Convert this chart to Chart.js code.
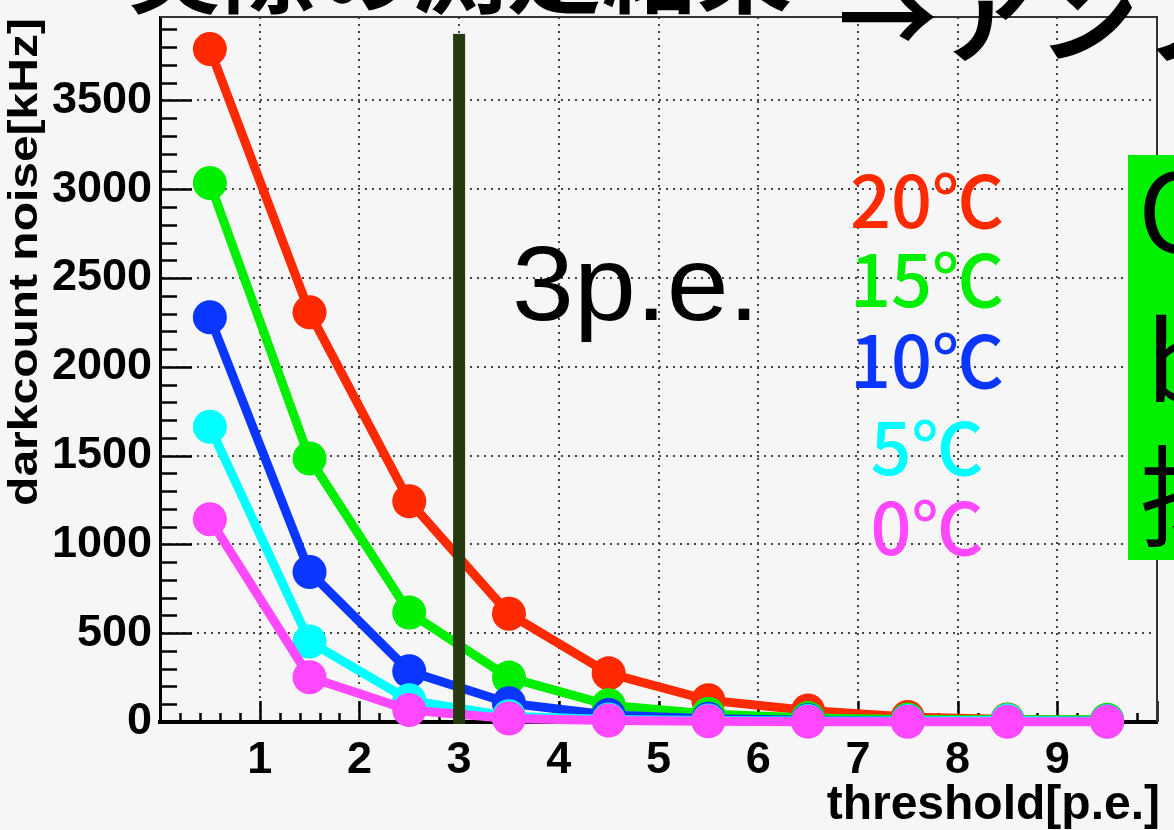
<!DOCTYPE html>
<html>
<head>
<meta charset="utf-8">
<script src="https://cdn.jsdelivr.net/npm/chart.js@4"></script>
<style>
  html, body { margin: 0; padding: 0; background: #f6f6f6; }
  canvas { display: block; }
</style>
</head>
<body>
<canvas id="chart" width="1174" height="830"></canvas>
<script>
  // threshold bins [p.e.]
  const thresholds = [0.5, 1.5, 2.5, 3.5, 4.5, 5.5, 6.5, 7.5, 8.5, 9.5];

  // darkcount noise [kHz]
  const noise20 = [3790, 2307, 1243, 610, 274, 123, 65, 28, 14, 10];
  const noise15 = [3035, 1484, 616, 250, 95, 45, 22, 14, 12, 12];
  const noise10 = [2279, 845, 286, 106, 40, 18, 10, 6, 5, 4];
  const noise5 = [1663, 453, 123, 32, 14, 8, 6, 5, 8, 4];
  const noise0 = [1142, 252, 67, 20, 8, 4, 2, 1, 1, 1];

  const tempLabels = ["20℃", "15℃", "10℃", "5℃", "0℃"];
  const tempColors = ["#ff2a00", "#00ee00", "#0a36ff", "#00ffff", "#ff48ff"];

  const xTicks = [1, 2, 3, 4, 5, 6, 7, 8, 9];
  const yTicks = [0, 500, 1000, 1500, 2000, 2500, 3000, 3500];

  const cutLine = { x: 3, top: 3875 };

  function points(vals) {
    return thresholds.map((x, i) => ({ x: x, y: vals[i] }));
  }

  const seriesVals = [noise20, noise15, noise10, noise5, noise0];

  // first dataset is drawn on top in Chart.js, so reverse: 0℃ on top
  const datasets = seriesVals.map((vals, i) => ({
    label: tempLabels[i],
    data: points(vals),
    borderColor: tempColors[i],
    backgroundColor: tempColors[i],
    pointBackgroundColor: tempColors[i],
    pointBorderWidth: 0,
    pointRadius: 17,
    borderWidth: 9,
    tension: 0,
    clip: false,
  })).reverse();

  function noPad(s) {
    s.paddingTop = 0;
    s.paddingBottom = 0;
    s.paddingLeft = 0;
    s.paddingRight = 0;
  }

  const overlay = {
    id: "overlay",
    beforeDraw(chart) {
      const ctx = chart.ctx;
      ctx.save();
      ctx.fillStyle = "#f6f6f6";
      ctx.fillRect(0, 0, chart.width, chart.height);
      ctx.restore();
    },
    beforeDatasetsDraw(chart) {
      const ctx = chart.ctx;
      const a = chart.chartArea;
      const xs = chart.scales.x;
      const ys = chart.scales.y;
      ctx.save();
      ctx.strokeStyle = "#000";
      ctx.lineWidth = 2.5;
      ctx.beginPath();
      for (let v = 0; v <= 3900; v += 100) {
        const y = Math.round(ys.getPixelForValue(v)) + 0.5;
        const len = v % 500 === 0 ? 32 : 17;
        ctx.moveTo(a.left, y);
        ctx.lineTo(a.left + len, y);
      }
      for (let k = 0; k <= 50; k++) {
        const x = Math.round(xs.getPixelForValue(k * 0.2)) + 0.5;
        const len = k % 5 === 0 ? 21 : 9;
        ctx.moveTo(x, a.bottom);
        ctx.lineTo(x, a.bottom - len);
      }
      ctx.stroke();
      // top and right frame
      ctx.strokeStyle = "#333";
      ctx.lineWidth = 2;
      ctx.beginPath();
      ctx.moveTo(a.left, a.top);
      ctx.lineTo(a.right, a.top);
      ctx.lineTo(a.right, a.bottom);
      ctx.stroke();
      ctx.restore();
    },
    afterDatasetsDraw(chart) {
      const ctx = chart.ctx;
      const a = chart.chartArea;
      const xs = chart.scales.x;
      const ys = chart.scales.y;
      ctx.save();

      // 3 p.e. cut line
      const cx = xs.getPixelForValue(cutLine.x);
      const ct = ys.getPixelForValue(cutLine.top);
      ctx.fillStyle = "#263a10";
      ctx.fillRect(cx - 6, ct, 12, a.bottom + 2 - ct);

      // axis titles
      ctx.fillStyle = "#000";
      ctx.font = "bold 48px 'Liberation Sans', Arial, sans-serif";
      ctx.textAlign = "right";
      ctx.textBaseline = "alphabetic";
      ctx.fillText("threshold[p.e.]", 1160, 819);

      ctx.save();
      ctx.translate(37, 262);
      ctx.rotate(-Math.PI / 2);
      ctx.scale(1.17, 1);
      ctx.font = "bold 41px 'Liberation Sans', Arial, sans-serif";
      ctx.textAlign = "center";
      ctx.fillText("darkcount noise[kHz]", 0, 0);
      ctx.restore();

      // "3p.e."
      ctx.save();
      ctx.translate(512, 320);
      ctx.scale(1.05, 1);
      ctx.font = "106px 'Liberation Sans', Arial, sans-serif";
      ctx.textAlign = "left";
      ctx.fillText("3p.e.", 0, 0);
      ctx.restore();

      // temperature labels
      const baselines = [228, 307, 388, 475, 555];
      ctx.font = "500 72px 'Noto Sans CJK JP', sans-serif";
      ctx.textAlign = "center";
      tempLabels.forEach((t, i) => {
        ctx.fillStyle = tempColors[i];
        ctx.fillText(t, 927, baselines[i]);
      });

      // slide title, cut off at the top
      ctx.fillStyle = "#000";
      ctx.textAlign = "left";
      ctx.font = "bold 95px 'Noto Sans CJK JP', sans-serif";
      ctx.fillText("実際の測定結果", 127, 6);
      ctx.font = "bold 100px 'Noto Sans CJK JP', sans-serif";
      ctx.fillText("→アンプ", 838, 55);

      // green note box on the right edge
      ctx.fillStyle = "#00f000";
      ctx.fillRect(1128, 155, 60, 405);
      ctx.fillStyle = "#000";
      ctx.font = "110px 'Noto Sans CJK JP', sans-serif";
      ctx.fillText("O", 1138, 253);
      ctx.fillText("b", 1146, 402);
      ctx.fillText("抑", 1140, 538);

      ctx.restore();
    },
  };

  const tickFont = { family: "'Liberation Sans', Arial, sans-serif", size: 45, weight: "bold" };

  new Chart(document.getElementById("chart"), {
    type: "line",
    data: { datasets: datasets },
    options: {
      responsive: false,
      animation: false,
      devicePixelRatio: 1,
      layout: { padding: { top: 14, right: 12, left: 0, bottom: 0 } },
      plugins: { legend: { display: false }, tooltip: { enabled: false } },
      scales: {
        x: {
          type: "linear",
          min: 0,
          max: 10,
          afterBuildTicks: (s) => { s.ticks = xTicks.map((v) => ({ value: v })); },
          afterFit: (s) => { s.height = 108; noPad(s); },
          ticks: { color: "#000", font: tickFont, padding: 12, maxRotation: 0, autoSkip: false, callback: (v) => String(v) },
          grid: { color: "#444", lineWidth: 2, drawTicks: false },
          border: { display: true, color: "#000", width: 4, dash: [2, 5] },
        },
        y: {
          min: 0,
          max: 3970,
          afterBuildTicks: (s) => { s.ticks = yTicks.map((v) => ({ value: v })); },
          afterFit: (s) => { s.width = 160; noPad(s); },
          ticks: { color: "#000", font: tickFont, padding: 8, autoSkip: false, callback: (v) => String(v) },
          grid: { color: "#444", lineWidth: 2, drawTicks: false },
          border: { display: true, color: "#000", width: 3, dash: [2, 5] },
        },
      },
    },
    plugins: [overlay],
  });
</script>
</body>
</html>
